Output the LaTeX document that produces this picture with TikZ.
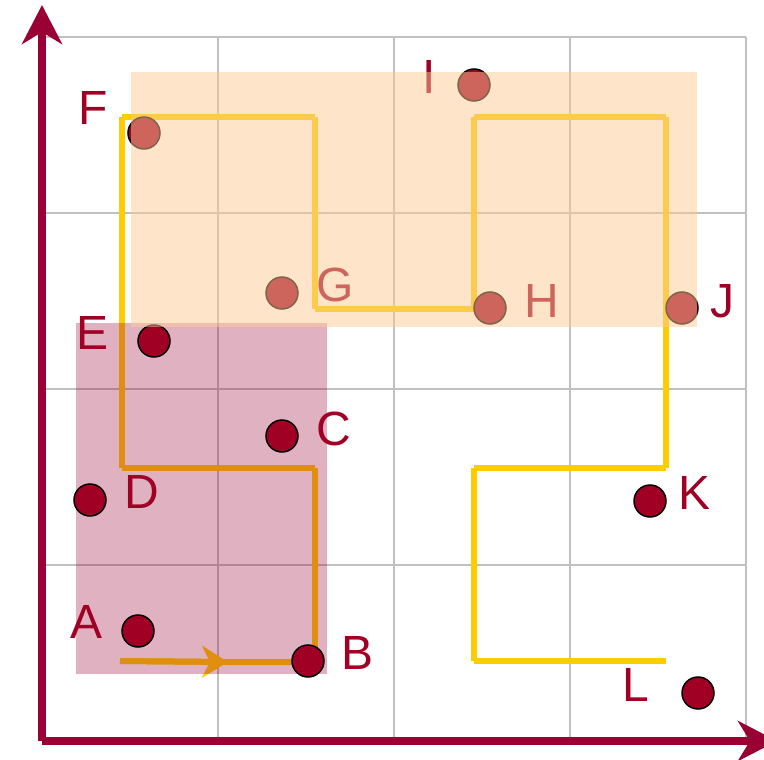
\documentclass[tikz,border=0pt]{standalone}
\usepackage{fontspec}
\setmainfont{Liberation Sans}
\usetikzlibrary{arrows.meta}
\definecolor{axisred}{RGB}{153,0,51}
\definecolor{dotred}{RGB}{160,0,35}
\definecolor{gridgray}{RGB}{192,192,192}
\definecolor{pathyellow}{RGB}{255,204,0}
\definecolor{peach}{RGB}{253,203,150}
\begin{document}
\begin{tikzpicture}[x=1pt,y=-1pt,
  gridline/.style={draw=gridgray,line width=2pt},
  axis/.style={draw=axisred,line width=8pt,-{Stealth[length=39pt,width=40pt,inset=12pt]}},
  route/.style={draw=pathyellow,line width=6pt},
  dot/.style={circle,fill=dotred,draw=black,line width=1.5pt,minimum size=32pt,inner sep=0pt},
  lbl/.style={text=dotred,font=\fontsize{48}{48}\selectfont,inner sep=0pt,anchor=center},
  pinkzone/.style={fill=axisred,fill opacity=0.3},
  peachzone/.style={fill=peach,fill opacity=0.5}
]
\useasboundingbox (0,0) rectangle (764,760);
% grid
\foreach \x in {42,218,394,570,746} \draw[gridline] (\x,37) -- (\x,741);
\foreach \y in {37,213,389,565,741} \draw[gridline] (42,\y) -- (746,\y);
% route coordinates
\coordinate (s) at (120,661);
\coordinate (m) at (228,662);
\coordinate (c1) at (315,662);
\coordinate (c2) at (315,468);
\coordinate (c3) at (122,468);
\coordinate (c4) at (122,117);
\coordinate (c5) at (315,117);
\coordinate (c6) at (315,309);
\coordinate (c7) at (474,309);
\coordinate (c8) at (474,117);
\coordinate (c9) at (666,117);
\coordinate (c10) at (666,468);
\coordinate (c11) at (474,468);
\coordinate (c12) at (474,661);
\coordinate (c13) at (666,661);
\draw[route] (s) -- (m) -- (c1);
\draw[route,-{Stealth[length=26pt,width=32pt,inset=8pt]}] (s) -- (m);
\foreach \a/\b in {c1/c2,c2/c3,c3/c4,c4/c5,c5/c6,c6/c7,c7/c8,c8/c9,c9/c10,c10/c11,c11/c12,c12/c13}
  \draw[route] (\a) -- (\b);
% pink zone
\path[pinkzone] (76,323) rectangle (327,674);
% dots
\node[dot] (A) at (138,631) {};
\node[dot] (B) at (308,661) {};
\node[dot] (C) at (282,436) {};
\node[dot] (D) at (90,500) {};
\node[dot] (E) at (154,341) {};
\node[dot] (F) at (144,133) {};
\node[dot] (G) at (282,293) {};
\node[dot] (H) at (490,308) {};
\node[dot] (I) at (474,85) {};
\node[dot] (J) at (682,308) {};
\node[dot] (K) at (650,501) {};
\node[dot] (L) at (698,693) {};
% labels
\node[lbl] (lA) at (87,622) {A};
\node[lbl] (lB) at (358,653) {B};
\node[lbl] (lC) at (334,429) {C};
\node[lbl] (lD) at (142,492) {D};
\node[lbl] (lE) at (93,333) {E};
\node[lbl] (lF) at (93,108) {F};
\node[lbl] (lG) at (335,285) {G};
\node[lbl] (lH) at (542,301) {H};
\node[lbl] (lI) at (429,77) {I};
\node[lbl] (lJ) at (722,301) {J};
\node[lbl] (lK) at (695,493) {K};
\node[lbl] (lL) at (636,685) {L};
% peach zone
\path[peachzone] (131,72) rectangle (697,327);
% axes
\coordinate (O) at (42,741);
\coordinate (ytip) at (42,5);
\coordinate (xtip) at (777,741);
\draw[axis] (O) -- (ytip);
\draw[axis] (O) -- (xtip);
\end{tikzpicture}
\end{document}
